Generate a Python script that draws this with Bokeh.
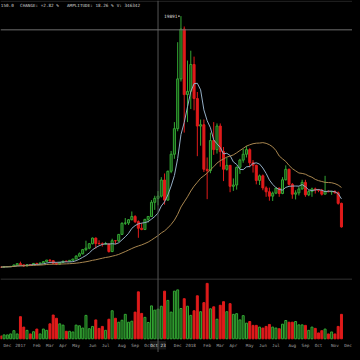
import pandas as pd
from bokeh.plotting import figure
from bokeh.models import Range1d, Span, ColumnDataSource
from bokeh.core.properties import value
from bokeh.embed import file_html
from bokeh.resources import INLINE

# Weekly candles, week of 2016-11-21 (index 0) to week of 2018-11-19 (index 104)
opens = [740, 732, 765, 770, 790, 892, 998, 905, 820, 922, 918, 1015, 995, 1050, 1150, 1270, 1225, 1020, 965, 1085,
         1190, 1180, 1250, 1350, 1570, 1750, 2070, 2180, 2520, 2950, 2540, 2510, 2480, 2500, 1920, 2750, 2740, 3230, 4080, 4100,
         4350, 4600, 4200, 3700, 3600, 4380, 4600, 5680, 5981.5, 6150, 7380, 5850, 8050, 9350, 11300, 15100, 18900, 13900, 14150, 16200,
         13600, 11500, 11600, 8200, 8100, 10400, 9700, 11500, 9550, 8200, 8500, 6900, 7000, 8350, 8900, 9350, 9700, 8700, 8500, 7350,
         7700, 6780, 6480, 6150, 6380, 6760, 6350, 7400, 8200, 7050, 6300, 6400, 6700, 7200, 6250, 6500, 6700, 6620, 6600, 6300,
         6500, 6480, 6500, 6400, 5600]
highs = [750, 768, 772, 792, 930, 1000, 1150, 915, 930, 925, 1040, 1060, 1060, 1190, 1280, 1330, 1250, 1110, 1100, 1210,
         1215, 1260, 1360, 1640, 1850, 2120, 2750, 2560, 2990, 2990, 2780, 2620, 2660, 2560, 2900, 2800, 3250, 4150, 4480, 4400,
         4980, 4700, 4300, 4100, 4400, 4620, 5850, 6180, 6540, 7600, 7880, 8100, 9600, 11800, 17900, 19891, 19100, 16500, 17250, 16800,
         14100, 12000, 12000, 9100, 11000, 11800, 11700, 11700, 9900, 9100, 8500, 7500, 8400, 9000, 9750, 9990, 9800, 8900, 8550, 7800,
         7800, 6900, 6800, 6500, 6800, 6800, 7600, 8500, 8250, 7150, 6600, 6900, 7400, 7400, 6600, 6800, 6800, 6700, 6700, 7700,
         6600, 6550, 6600, 6500, 5650]
lows = [725, 728, 750, 760, 788, 880, 880, 750, 810, 880, 910, 940, 990, 1050, 1140, 1100, 950, 890, 920, 1070,
        1150, 1165, 1240, 1350, 1550, 1700, 1950, 2100, 2470, 2150, 2460, 2300, 2450, 1840, 1880, 2480, 2650, 3200, 3950, 3950,
        4300, 4100, 2970, 3550, 3600, 4140, 4560, 5100, 5448, 6050, 5500, 5800, 7900, 9000, 11100, 14900, 11000, 11800, 12800, 12700,
        9200, 10000, 8000, 5920, 7900, 9300, 9400, 8400, 7300, 8100, 6450, 6550, 6650, 7850, 8700, 9100, 8350, 7950, 7050, 7000,
        6600, 6100, 5800, 5780, 6300, 6100, 6300, 7350, 6950, 5950, 5900, 6200, 6650, 6100, 6150, 6100, 6350, 6450, 6200, 6300,
        6450, 6250, 6350, 5500, 3750]
closes = [732, 765, 770, 790, 892, 998, 905, 820, 922, 918, 1015, 995, 1050, 1150, 1270, 1225, 1020, 965, 1085, 1190,
          1180, 1250, 1350, 1570, 1750, 2070, 2180, 2520, 2950, 2540, 2510, 2480, 2500, 1920, 2750, 2740, 3230, 4080, 4100, 4350,
          4600, 4200, 3700, 3600, 4380, 4600, 5680, 5980, 6150, 7380, 5850, 8050, 9350, 11300, 15100, 18900, 13900, 14150, 16200, 13600,
          11500, 11600, 8200, 8100, 10400, 9700, 11500, 9550, 8200, 8500, 6900, 7000, 8350, 8900, 9350, 9700, 8700, 8500, 7350, 7700,
          6780, 6480, 6150, 6380, 6760, 6350, 7400, 8200, 7050, 6300, 6400, 6700, 7200, 6250, 6500, 6700, 6620, 6600, 6300, 6500,
          6480, 6500, 6400, 5600, 3800]
volumes = [34000, 46000, 46000, 57000, 95000, 57000, 259000, 137000, 99000, 57000, 83000, 114000, 57000, 114000, 99000, 175000, 278000, 240000, 175000, 160000,
           88000, 88000, 80000, 160000, 152000, 126000, 274000, 118000, 145000, 221000, 122000, 145000, 99000, 229000, 328000, 240000, 194000, 217000, 286000, 194000,
           206000, 312000, 549000, 297000, 251000, 191000, 385000, 335000, 346342, 381000, 557000, 449000, 312000, 557000, 572000, 354000, 469000, 381000, 274000, 328000,
           503000, 317000, 423000, 648000, 351000, 374000, 229000, 392000, 434000, 317000, 411000, 286000, 294000, 221000, 271000, 183000, 202000, 157000, 157000, 137000,
           126000, 145000, 168000, 137000, 126000, 118000, 171000, 214000, 194000, 194000, 202000, 163000, 163000, 157000, 99000, 137000, 122000, 69000, 95000, 114000,
           57000, 80000, 57000, 145000, 286000]

tick_idx = [2, 6, 11, 15, 19, 23, 28, 32, 37, 41, 45, 54, 58, 63, 67, 71, 76, 80, 84, 89, 93, 97, 102, 106]
tick_labels = ["Dec", "2017", "Feb", "Mar", "Apr", "May", "Jun", "Jul", "Aug", "Sep", "Oct",
               "Dec", "2018", "Feb", "Mar", "Apr", "May", "Jun", "Jul", "Aug", "Sep", "Oct", "Nov", "Dec"]

cross_idx = 48
cross_label = "Oct 23"
cross_price = 18844
peak_idx = 55
peak_label = "19891"
header_texts = ["150.0", "CHANGE: +2.82 %", "AMPLITUDE: 18.26 %", "V: 346342"]
header_pos = [0.0, 5.88, 20.2, 35.4]

RED = "#e01b1b"
GREEN_LINE = "#34a834"
GREEN_FILL = "#0f3f0f"
MONO = value("DejaVu Sans Mono")
LABEL_Y = -5224      # price coordinate of the date-label row
SEP_Y = -187         # price coordinate of the price/volume separator

idx = list(range(len(closes)))
up = [c >= o for o, c in zip(opens, closes)]
df = pd.DataFrame(dict(x=idx, o=opens, h=highs, l=lows, c=closes, v=volumes))
df["top"] = df[["o", "c"]].max(axis=1)
df["bot"] = df[["o", "c"]].min(axis=1)
df["line"] = [GREEN_LINE if u else RED for u in up]
df["fill"] = [GREEN_FILL if u else RED for u in up]
df["ma7"] = df["c"].rolling(7, min_periods=1).mean()
df["ma30"] = df["c"].rolling(30, min_periods=1).mean()
src = ColumnDataSource(df)

p = figure(width=352, height=352, x_range=Range1d(-0.09, 107.37), y_range=Range1d(-5784, 21083),
           output_backend="svg", toolbar_location=None, x_axis_location=None, y_axis_location=None,
           background_fill_color="black", border_fill_color="black", outline_line_color=None,
           min_border=0)
p.extra_y_ranges = {"vol": Range1d(-160020, 3954780)}
p.grid.visible = False

# volume
p.vbar(x="x", top="v", bottom=0, width=0.6, y_range_name="vol", source=src,
       fill_color="fill", line_color="line", line_width=1)
# candles
p.segment(x0="x", y0="l", x1="x", y1="h", line_color="line", line_width=1, source=src)
p.vbar(x="x", top="top", bottom="bot", width=0.62, source=src,
       fill_color="fill", line_color="line", line_width=1)
# moving averages
p.line("x", "ma7", source=src, line_color="#93adc4", line_width=1)
p.line("x", "ma30", source=src, line_color="#a8864f", line_width=1)

# panel separators and crosshair
p.add_layout(Span(location=SEP_Y, dimension="width", line_color="#333333", line_width=1))
p.add_layout(Span(location=21030, dimension="width", line_color="#2a2a2a", line_width=1))
p.add_layout(Span(location=cross_idx, dimension="height", line_color="#555555", line_width=1))
p.add_layout(Span(location=cross_price, dimension="width", line_color="#6e6e6e", line_width=1))

# header
p.text(x=header_pos, y=[20710] * 4, text=header_texts, text_font=MONO,
       text_font_size="4.3px", text_color="#cfcfcf", text_align="left", text_baseline="middle")
# peak marker
p.text(x=[peak_idx - 1.05], y=[highs[peak_idx]], text=[peak_label], text_font=MONO,
       text_font_size="4.5px", text_color="#dddddd", text_align="right", text_baseline="middle")
p.segment(x0=[peak_idx - 0.9], y0=[highs[peak_idx]], x1=[peak_idx - 0.35], y1=[highs[peak_idx]],
          line_color="#dddddd", line_width=1)

# date labels
p.text(x=tick_idx, y=[LABEL_Y] * len(tick_idx), text=tick_labels, text_font=MONO,
       text_font_size="4.3px", text_color="#a0a0a0", text_align="center", text_baseline="middle")
p.rect(x=[cross_idx], y=[LABEL_Y], width=4.9, height=650, fill_color="#161616", line_color=None)
p.text(x=[cross_idx], y=[LABEL_Y], text=[cross_label], text_font=MONO,
       text_font_size="4.3px", text_color="#e6e6e6", text_align="center", text_baseline="middle")

html = file_html(p, INLINE)
html = html.replace("</head>", "<style>html,body{background:#000;overflow:hidden;}</style></head>", 1)
open("out.html", "w").write(html)
